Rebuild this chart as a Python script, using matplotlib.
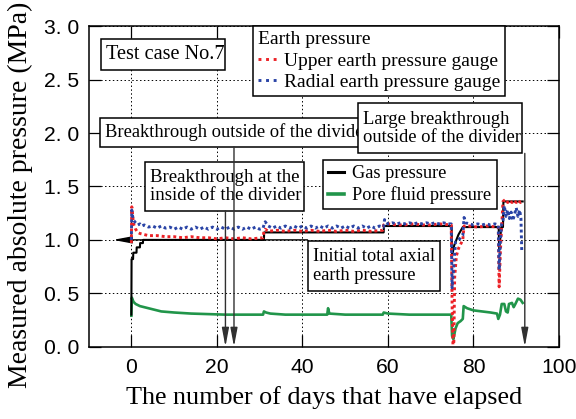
import matplotlib
matplotlib.use("Agg")
import matplotlib.pyplot as plt
from matplotlib.lines import Line2D
from matplotlib.patches import Rectangle

plt.rcParams['font.family'] = ['Liberation Serif', 'DejaVu Serif']

# ---- data ----
# Upper earth pressure gauge (red)
upper_days = [0, 0.1, 0.3, 0.6, 1, 1.5, 2, 3, 4, 6, 8, 10, 12, 14, 16, 18, 20, 22, 24, 26, 28, 30.8,
              31, 31.3, 32, 34, 36, 38, 40, 42, 44, 46, 48, 50, 52, 54, 56, 58.8,
              59, 60, 62, 64, 66, 68, 70, 72, 74.8,
              75, 75.2, 75.4, 75.6, 76, 76.5, 77, 77.5, 77.8, 79, 81, 83, 85.8,
              86, 86.3, 86.6, 86.9, 87.5, 88, 88.5, 89, 89.5, 90, 90.5, 91, 91.5]
upper_mpa = [0.97, 1.31, 1.22, 1.14, 1.10, 1.07, 1.06, 1.05, 1.04, 1.04, 1.03, 1.03, 1.02, 1.03, 1.02,
             1.02, 1.01, 1.02, 1.01, 1.02, 1.01, 1.02,
             1.08, 1.10, 1.08, 1.09, 1.08, 1.09, 1.08, 1.09, 1.08, 1.09, 1.08, 1.09, 1.08, 1.09, 1.08, 1.09,
             1.14, 1.15, 1.14, 1.14, 1.15, 1.14, 1.14, 1.15, 1.14,
             0.40, 0.02, 0.02, 0.65, 0.85, 0.92, 0.96, 1.00, 1.13, 1.13, 1.12, 1.13, 1.12,
             0.56, 0.90, 1.13, 1.36, 1.38, 1.35, 1.37, 1.35, 1.37, 1.35, 1.37, 1.35, 1.36]

# Radial earth pressure gauge (blue)
radial_days = [0, 0.1, 0.3, 0.6, 1, 1.5, 2, 2.5, 3, 4, 5, 6, 7, 8, 9, 10, 11, 12, 13, 14, 15, 16, 17,
               18, 19, 20, 21, 22, 23, 24, 25, 26, 27, 28, 29, 30, 30.8,
               31, 31.3, 32, 33, 34, 35, 36, 37, 38, 39, 40, 41, 42, 43, 44, 45, 46, 47, 48, 49, 50,
               51, 52, 53, 54, 55, 56, 57, 58, 59,
               59.2, 59.6, 60, 61, 62, 63, 64, 65, 66, 67, 68, 69, 70, 71, 72, 73, 74, 74.8,
               75, 75.4, 75.8, 76.5, 77, 77.5, 77.8, 78.2, 79, 80, 81, 82, 83, 84, 85, 85.8,
               86, 86.3, 86.6, 86.9, 87.2, 87.6, 88, 88.4, 88.8, 89.2, 89.6, 90, 90.4, 90.8,
               91.1, 91.3]
radial_mpa = [1.00, 1.28, 1.22, 1.18, 1.16, 1.14, 1.15, 1.13, 1.14, 1.12, 1.13, 1.11, 1.13, 1.11,
              1.12, 1.10, 1.12, 1.10, 1.12, 1.10, 1.12, 1.10, 1.12, 1.10, 1.12, 1.10, 1.12, 1.10,
              1.12, 1.10, 1.12, 1.10, 1.12, 1.10, 1.12, 1.10, 1.11,
              1.14, 1.17, 1.13, 1.11, 1.13, 1.11, 1.13, 1.11, 1.13, 1.11, 1.13, 1.11, 1.13, 1.11,
              1.13, 1.11, 1.13, 1.11, 1.13, 1.11, 1.13, 1.11, 1.13, 1.11, 1.13, 1.11, 1.13, 1.11,
              1.13, 1.12,
              1.19, 1.16, 1.15, 1.16, 1.15, 1.16, 1.15, 1.16, 1.15, 1.16, 1.15, 1.16, 1.15, 1.16,
              1.15, 1.16, 1.15, 1.15,
              0.55, 0.75, 0.98, 1.00, 1.02, 1.04, 1.21, 1.16, 1.15, 1.14, 1.15, 1.14, 1.15, 1.14,
              1.15, 1.14,
              0.72, 1.00, 1.15, 1.18, 1.32, 1.22, 1.28, 1.20, 1.26, 1.18, 1.24, 1.30, 1.22, 1.28,
              1.20, 0.88]

# Gas pressure (black)
gas_days = [0, 0.05, 0.4, 0.45, 1.2, 1.25, 2, 2.05, 2.7, 2.75, 31, 31.05, 59, 59.05, 74.9,
            75, 75.5, 76.5, 77.5, 85.9, 86, 86.5, 86.9, 87, 91.5]
gas_mpa = [0.30, 0.82, 0.82, 0.88, 0.88, 0.93, 0.93, 0.97, 0.97, 1.00, 1.00, 1.07, 1.07, 1.13, 1.13,
           0.85, 0.95, 1.05, 1.12, 1.12, 0.90, 1.12, 1.12, 1.36, 1.36]

# Pore fluid pressure (green)
pore_days = [0, 0.1, 0.5, 1, 2, 3, 4, 5, 7, 10, 14, 18, 22, 26, 30.8, 31, 31.5, 32.5, 36, 40,
             45.8, 46, 46.3, 50, 55, 58.8, 59, 60, 65, 70, 74.8,
             75, 75.3, 75.8, 76.3, 77, 77.5, 77.7, 78.5, 80, 82, 84, 85.5, 85.8, 86.2, 86.6, 87.2,
             87.6, 88, 88.3, 89, 89.4, 89.8, 90.4, 91, 91.5]
pore_mpa = [0.29, 0.46, 0.42, 0.40, 0.38, 0.37, 0.36, 0.35, 0.33, 0.32, 0.31, 0.305, 0.30, 0.30,
            0.30, 0.33, 0.32, 0.31, 0.30, 0.30, 0.30, 0.36, 0.31, 0.30, 0.30, 0.30, 0.32, 0.31,
            0.30, 0.30, 0.30,
            0.10, 0.07, 0.17, 0.22, 0.24, 0.26, 0.38, 0.36, 0.34, 0.33, 0.32, 0.31, 0.26, 0.30,
            0.40, 0.40, 0.33, 0.32, 0.40, 0.41, 0.37, 0.40, 0.45, 0.44, 0.41]

x_ticks = [0, 20, 40, 60, 80, 100]
y_ticks = [0.0, 0.5, 1.0, 1.5, 2.0, 2.5, 3.0]
y_ticklabels = ['0. 0', '0. 5', '1. 0', '1. 5', '2. 0', '2. 5', '3. 0']

red = '#ec2227'
blue = '#2a44a6'
green = '#21954a'

fig = plt.figure(figsize=(5.76, 4.19), dpi=100)
ax = fig.add_axes([0.1538, 0.1726, 0.8167, 0.7646])

ax.plot(pore_days, pore_mpa, color=green, lw=1.9, zorder=2)
ax.plot(gas_days, gas_mpa, color='black', lw=1.5, zorder=3)
ax.plot(upper_days, upper_mpa, color=red, lw=2.1, ls=(0, (1, 1)), zorder=4)
ax.plot(radial_days, radial_mpa, color=blue, lw=2.1, ls=(0, (1, 1)), zorder=5)

ax.set_xlim(-10, 100)
ax.set_ylim(0, 3.0)
ax.set_xticks(x_ticks)
ax.set_yticks(y_ticks)
ax.set_yticklabels(y_ticklabels)
for lab in ax.get_xticklabels() + ax.get_yticklabels():
    lab.set_fontfamily(['Liberation Sans', 'DejaVu Sans'])
    lab.set_fontsize(15.2)
ax.tick_params(axis='both', direction='in', length=8.5, width=0.9, top=True, right=True)
ax.tick_params(axis='x', pad=8)
ax.tick_params(axis='y', pad=6.5)
for s in ax.spines.values():
    s.set_linewidth(1.1)
ax.grid(True, color='black', lw=0.7, ls=(0, (1.5, 2.5)), zorder=1)

ax.set_xlabel('The number of days that have elapsed', fontsize=18.8, labelpad=7)
ax.set_ylabel('Measured absolute pressure (MPa)', fontsize=20)
ax.yaxis.set_label_coords(-0.118, 0.475)


# text boxes (axes fraction coords)
def box(x0, y0, x1, y1, txt, size=13.3, z=6):
    ax.add_patch(Rectangle((x0, y0), x1 - x0, y1 - y0, transform=ax.transAxes, fc='white',
                           ec='black', lw=1.1, zorder=z, clip_on=False))
    ax.text(x0 + 0.011, (y0 + y1) / 2, txt, transform=ax.transAxes, ha='left', va='center',
            fontsize=size, linespacing=1.1, zorder=z + 0.1)


box(0.0264, 0.864, 0.290, 0.959, 'Test case No.7', size=14.6)
box(0.0234, 0.624, 0.66, 0.713, 'Breakthrough outside of the divider')
box(0.572, 0.604, 0.921, 0.760, 'Large breakthrough\noutside of the divider', z=7)
box(0.120, 0.424, 0.458, 0.577, 'Breakthrough at the\ninside of the divider', size=13.6)
box(0.466, 0.174, 0.747, 0.330, 'Initial total axial\nearth pressure', size=13.2)

# arrows
arw = dict(arrowstyle='-|>,head_length=0.8,head_width=0.15', color='#303030', lw=1.0,
           shrinkA=0, shrinkB=0, mutation_scale=14)
ax.annotate('', xy=(24, 0), xytext=(24, 1.873), arrowprops=arw, zorder=8)
ax.annotate('', xy=(22, 0), xytext=(22, 1.273), arrowprops=arw, zorder=8)
ax.annotate('', xy=(92, 0), xytext=(92, 1.81), arrowprops=arw, zorder=8)
arw_h = dict(arw, color='black')
ax.annotate('', xy=(-4.3, 1.0), xytext=(41.2, 1.0), arrowprops=arw_h, zorder=3)

# legends
h_red = Line2D([], [], color=red, lw=2.1, ls=(0, (1, 1.6)))
h_blue = Line2D([], [], color=blue, lw=2.1, ls=(0, (1, 1.6)))
leg1 = ax.legend([h_red, h_blue], ['Upper earth pressure gauge', 'Radial earth pressure gauge'],
                 title='Earth pressure', title_fontsize=14.0, fontsize=14.0, alignment='left',
                 loc='upper left', bbox_to_anchor=(0.3495, 1.0), borderaxespad=0,
                 fancybox=False, edgecolor='black', framealpha=1, handlelength=1.1,
                 handletextpad=0.25, labelspacing=0.2, borderpad=0.25)
leg1.get_frame().set_linewidth(1.1)
ax.add_artist(leg1)

h_gas = Line2D([], [], color='black', lw=2.2)
h_pore = Line2D([], [], color=green, lw=2.6)
leg2 = ax.legend([h_gas, h_pore], ['Gas pressure', 'Pore fluid pressure'], fontsize=13.2,
                 loc='upper left', bbox_to_anchor=(0.4977, 0.583), borderaxespad=0,
                 fancybox=False, edgecolor='black', framealpha=1, handlelength=0.85,
                 handletextpad=0.45, labelspacing=0.2, borderpad=0.3)
leg2.get_frame().set_linewidth(1.1)

fig.savefig('out.png', dpi=100)
